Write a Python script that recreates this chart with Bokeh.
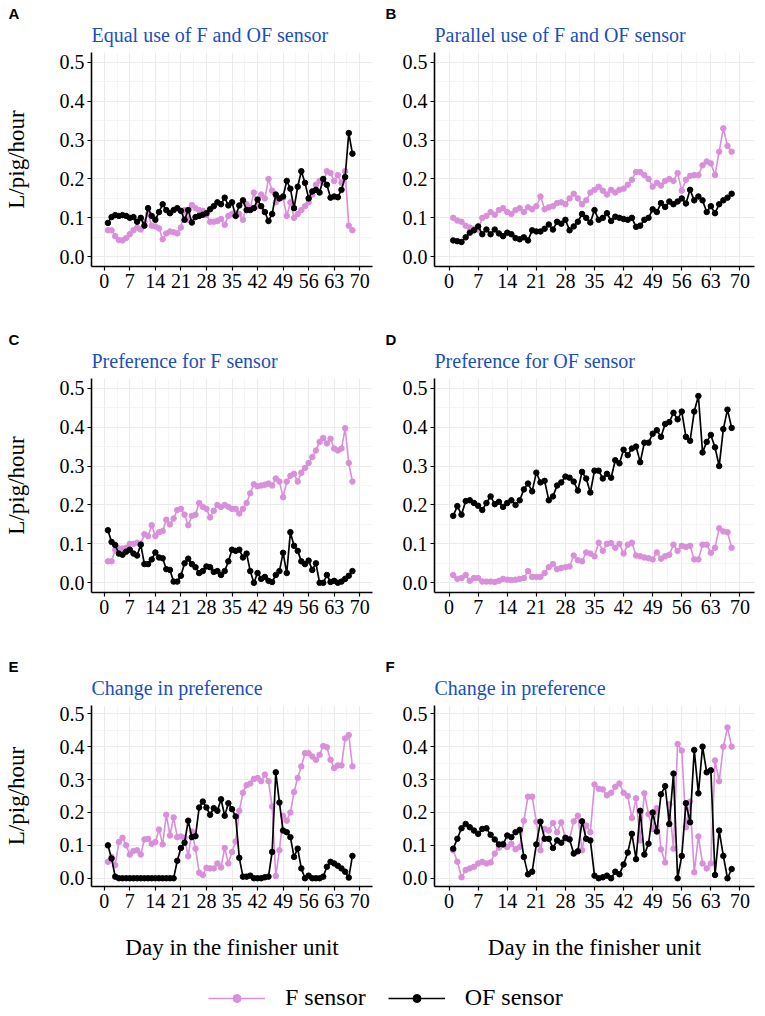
from bokeh.plotting import figure
from bokeh.layouts import column, row
from bokeh.models import (FixedTicker, Title, Legend, LegendItem, Range1d,
                          ColumnDataSource, PrintfTickFormatter)
from bokeh.embed import file_html
from bokeh.resources import INLINE

days = list(range(1, 69))
x_ticks = [0, 7, 14, 21, 28, 35, 42, 49, 56, 63, 70]
x_minor = [3.5, 10.5, 17.5, 24.5, 31.5, 38.5, 45.5, 52.5, 59.5, 66.5]
y_ticks = [0.0, 0.1, 0.2, 0.3, 0.4, 0.5]
y_minor = [0.05, 0.15, 0.25, 0.35, 0.45]

panel_letters = ["A", "B", "C", "D", "E", "F"]
panel_titles = ["Equal use of F and OF sensor", "Parallel use of F and OF sensor",
                "Preference for F sensor", "Preference for OF sensor",
                "Change in preference", "Change in preference"]
series_names = ["F sensor", "OF sensor"]
y_title = "L/pig/hour"
x_title = "Day in the finisher unit"

a_f = [0.068, 0.068, 0.053, 0.043, 0.042, 0.048, 0.058, 0.068, 0.075, 0.070,
       0.090, 0.110, 0.080, 0.078, 0.073, 0.045, 0.060, 0.065, 0.063, 0.060,
       0.075, 0.120, 0.095, 0.133, 0.125, 0.120, 0.118, 0.108, 0.090, 0.090,
       0.092, 0.097, 0.082, 0.105, 0.110, 0.112, 0.110, 0.095, 0.135, 0.125,
       0.165, 0.130, 0.160, 0.150, 0.200, 0.170, 0.140, 0.150, 0.152, 0.105,
       0.140, 0.100, 0.110, 0.120, 0.130, 0.140, 0.160, 0.185, 0.195, 0.190,
       0.220, 0.215, 0.195, 0.210, 0.190, 0.220, 0.080, 0.068]
a_of = [0.087, 0.102, 0.107, 0.105, 0.107, 0.105, 0.100, 0.102, 0.090, 0.100,
        0.080, 0.125, 0.105, 0.095, 0.115, 0.135, 0.120, 0.112, 0.120, 0.125,
        0.118, 0.095, 0.120, 0.088, 0.102, 0.105, 0.108, 0.112, 0.122, 0.130,
        0.140, 0.135, 0.152, 0.132, 0.140, 0.105, 0.132, 0.145, 0.120, 0.120,
        0.125, 0.147, 0.130, 0.115, 0.092, 0.110, 0.160, 0.150, 0.155, 0.195,
        0.175, 0.125, 0.180, 0.220, 0.190, 0.150, 0.168, 0.172, 0.165, 0.200,
        0.185, 0.152, 0.155, 0.153, 0.172, 0.205, 0.318, 0.265]
b_f = [0.100, 0.093, 0.090, 0.080, 0.075, 0.072, 0.070, 0.100, 0.105, 0.115,
       0.108, 0.120, 0.125, 0.115, 0.110, 0.120, 0.125, 0.115, 0.127, 0.122,
       0.130, 0.155, 0.122, 0.127, 0.130, 0.138, 0.140, 0.135, 0.150, 0.162,
       0.150, 0.135, 0.145, 0.165, 0.172, 0.180, 0.170, 0.160, 0.172, 0.165,
       0.172, 0.175, 0.185, 0.198, 0.218, 0.218, 0.210, 0.200, 0.180, 0.190,
       0.183, 0.195, 0.200, 0.195, 0.215, 0.170, 0.198, 0.208, 0.210, 0.210,
       0.235, 0.245, 0.240, 0.210, 0.270, 0.330, 0.285, 0.270]
b_of = [0.042, 0.040, 0.038, 0.050, 0.062, 0.068, 0.078, 0.058, 0.070, 0.058,
        0.070, 0.060, 0.053, 0.062, 0.058, 0.048, 0.045, 0.050, 0.042, 0.068,
        0.065, 0.065, 0.072, 0.083, 0.070, 0.090, 0.085, 0.095, 0.068, 0.078,
        0.090, 0.110, 0.100, 0.088, 0.120, 0.095, 0.100, 0.112, 0.092, 0.103,
        0.100, 0.097, 0.095, 0.100, 0.077, 0.080, 0.095, 0.100, 0.122, 0.115,
        0.138, 0.128, 0.142, 0.135, 0.142, 0.150, 0.137, 0.172, 0.145, 0.155,
        0.145, 0.115, 0.130, 0.112, 0.135, 0.145, 0.152, 0.162]
c_f = [0.055, 0.055, 0.085, 0.088, 0.088, 0.090, 0.100, 0.100, 0.103, 0.100,
       0.125, 0.120, 0.148, 0.120, 0.130, 0.133, 0.162, 0.150, 0.165, 0.187,
       0.190, 0.175, 0.148, 0.172, 0.175, 0.205, 0.195, 0.190, 0.168, 0.185,
       0.200, 0.195, 0.200, 0.195, 0.190, 0.190, 0.178, 0.190, 0.205, 0.230,
       0.253, 0.248, 0.250, 0.252, 0.255, 0.250, 0.268, 0.260, 0.220, 0.260,
       0.275, 0.280, 0.260, 0.283, 0.295, 0.308, 0.323, 0.340, 0.362, 0.372,
       0.358, 0.370, 0.345, 0.340, 0.345, 0.397, 0.308, 0.260]
c_of = [0.135, 0.105, 0.097, 0.075, 0.072, 0.080, 0.085, 0.075, 0.070, 0.098,
        0.048, 0.048, 0.060, 0.078, 0.065, 0.063, 0.035, 0.033, 0.003, 0.003,
        0.018, 0.050, 0.062, 0.048, 0.040, 0.025, 0.030, 0.042, 0.040, 0.028,
        0.030, 0.020, 0.030, 0.055, 0.085, 0.082, 0.085, 0.065, 0.075, 0.030,
        0.000, 0.025, 0.010, 0.015, 0.005, 0.002, 0.020, 0.030, 0.077, 0.025,
        0.130, 0.095, 0.082, 0.055, 0.048, 0.057, 0.033, 0.050, 0.000, 0.000,
        0.020, 0.002, 0.005, 0.000, 0.003, 0.010, 0.018, 0.030]
d_f = [0.020, 0.010, 0.012, 0.020, 0.005, 0.012, 0.012, 0.003, 0.003, 0.003,
       0.002, 0.005, 0.010, 0.008, 0.007, 0.008, 0.010, 0.012, 0.030, 0.015,
       0.015, 0.015, 0.025, 0.040, 0.048, 0.035, 0.038, 0.040, 0.042, 0.070,
       0.058, 0.055, 0.078, 0.075, 0.068, 0.103, 0.082, 0.100, 0.102, 0.090,
       0.100, 0.075, 0.098, 0.103, 0.070, 0.068, 0.065, 0.063, 0.060, 0.078,
       0.062, 0.068, 0.072, 0.098, 0.082, 0.095, 0.092, 0.095, 0.060, 0.060,
       0.098, 0.098, 0.077, 0.090, 0.140, 0.132, 0.130, 0.090]
d_of = [0.172, 0.197, 0.175, 0.210, 0.212, 0.205, 0.198, 0.187, 0.205, 0.222,
        0.202, 0.208, 0.195, 0.205, 0.212, 0.200, 0.212, 0.240, 0.255, 0.235,
        0.283, 0.258, 0.262, 0.212, 0.222, 0.250, 0.258, 0.273, 0.270, 0.260,
        0.237, 0.285, 0.268, 0.232, 0.288, 0.288, 0.268, 0.280, 0.270, 0.315,
        0.307, 0.342, 0.328, 0.345, 0.350, 0.310, 0.360, 0.360, 0.383, 0.392,
        0.375, 0.408, 0.413, 0.437, 0.420, 0.440, 0.375, 0.365, 0.440, 0.480,
        0.335, 0.362, 0.380, 0.348, 0.300, 0.395, 0.445, 0.398]
e_f = [0.050, 0.065, 0.040, 0.110, 0.123, 0.100, 0.072, 0.083, 0.085, 0.072,
       0.118, 0.120, 0.105, 0.110, 0.148, 0.103, 0.193, 0.130, 0.185, 0.125,
       0.127, 0.123, 0.067, 0.142, 0.090, 0.017, 0.010, 0.032, 0.030, 0.030,
       0.045, 0.033, 0.092, 0.045, 0.080, 0.112, 0.205, 0.260, 0.283, 0.288,
       0.302, 0.305, 0.295, 0.315, 0.295, 0.218, 0.007, 0.085, 0.190, 0.175,
       0.200, 0.262, 0.305, 0.340, 0.380, 0.380, 0.370, 0.360, 0.375, 0.402,
       0.398, 0.360, 0.335, 0.343, 0.343, 0.425, 0.435, 0.340]
e_of = [0.100, 0.060, 0.005, 0.000, 0.000, 0.000, 0.000, 0.000, 0.000, 0.000,
        0.000, 0.000, 0.000, 0.000, 0.000, 0.000, 0.000, 0.000, 0.000, 0.053,
        0.092, 0.108, 0.175, 0.125, 0.128, 0.215, 0.233, 0.215, 0.193, 0.213,
        0.205, 0.240, 0.190, 0.228, 0.210, 0.188, 0.062, 0.005, 0.005, 0.008,
        0.000, 0.000, 0.000, 0.003, 0.005, 0.080, 0.322, 0.230, 0.145, 0.140,
        0.125, 0.065, 0.090, 0.030, 0.000, 0.008, 0.000, 0.000, 0.000, 0.005,
        0.035, 0.050, 0.045, 0.038, 0.030, 0.020, 0.002, 0.068]
f_f = [0.085, 0.050, 0.003, 0.025, 0.030, 0.035, 0.045, 0.050, 0.045, 0.048,
       0.075, 0.093, 0.105, 0.095, 0.105, 0.088, 0.095, 0.175, 0.248, 0.248,
       0.172, 0.085, 0.150, 0.145, 0.168, 0.140, 0.170, 0.120, 0.120, 0.173,
       0.190, 0.085, 0.160, 0.140, 0.285, 0.272, 0.270, 0.252, 0.260, 0.278,
       0.288, 0.260, 0.250, 0.183, 0.243, 0.115, 0.258, 0.195, 0.150, 0.213,
       0.088, 0.048, 0.225, 0.090, 0.408, 0.388, 0.155, 0.233, 0.018, 0.127,
       0.045, 0.030, 0.045, 0.358, 0.295, 0.400, 0.458, 0.400]
f_of = [0.090, 0.120, 0.152, 0.165, 0.155, 0.145, 0.135, 0.150, 0.152, 0.132,
        0.118, 0.103, 0.103, 0.130, 0.125, 0.140, 0.147, 0.065, 0.012, 0.020,
        0.103, 0.172, 0.120, 0.120, 0.092, 0.115, 0.108, 0.123, 0.118, 0.075,
        0.082, 0.173, 0.120, 0.115, 0.008, 0.000, 0.003, 0.008, 0.000, 0.020,
        0.012, 0.042, 0.078, 0.135, 0.058, 0.205, 0.072, 0.105, 0.200, 0.142,
        0.255, 0.280, 0.165, 0.318, 0.000, 0.068, 0.228, 0.170, 0.390, 0.258,
        0.400, 0.322, 0.328, 0.010, 0.145, 0.068, 0.000, 0.028]

f_series = [a_f, b_f, c_f, d_f, e_f, f_f]
of_series = [a_of, b_of, c_of, d_of, e_of, f_of]

PINK = "#D98FD9"
BLACK = "#000000"
BLUE = "#1A4FC0"
SERIF = "Liberation Serif"
SANS = "Liberation Sans"


def make_panel(idx, width, height, b_left, b_right, b_top, b_bottom, left_col,
               bottom_row):
    src = ColumnDataSource(dict(day=days, f=f_series[idx], of=of_series[idx]))
    p = figure(width=width, height=height,
               x_range=Range1d(-3.5, 73.5), y_range=Range1d(-0.025, 0.525),
               output_backend="svg", toolbar_location=None, title=None,
               min_border_left=b_left, min_border_right=b_right,
               min_border_top=b_top, min_border_bottom=b_bottom)
    p.outline_line_color = None
    p.background_fill_color = "white"
    p.border_fill_color = "white"

    p.xaxis.ticker = FixedTicker(ticks=x_ticks, minor_ticks=x_minor)
    p.yaxis.ticker = FixedTicker(ticks=y_ticks, minor_ticks=y_minor)
    p.yaxis.formatter = PrintfTickFormatter(format="%.1f")
    for ax in (p.xaxis, p.yaxis):
        ax.axis_line_color = "black"
        ax.axis_line_width = 1.6
        ax.major_tick_line_color = "black"
        ax.major_tick_line_width = 1.2
        ax.major_tick_out = 4
        ax.major_tick_in = 0
        ax.minor_tick_out = 0
        ax.minor_tick_in = 0
        ax.major_label_text_font = SERIF
        ax.major_label_text_font_size = "20px"
        ax.major_label_text_color = "black"
        ax.major_label_standoff = 3
        ax.axis_label_text_font = SERIF
        ax.axis_label_text_font_size = "23px"
        ax.axis_label_text_font_style = "normal"
        ax.axis_label_text_color = "black"

    if left_col:
        p.yaxis.axis_label = y_title
        p.yaxis.axis_label_standoff = 28
    if bottom_row:
        p.xaxis.axis_label = x_title
        p.xaxis.axis_label_standoff = 24

    p.xgrid.grid_line_color = "#EBEBEB"
    p.ygrid.grid_line_color = "#EBEBEB"
    p.xgrid.grid_line_width = 1
    p.ygrid.grid_line_width = 1
    p.xgrid.minor_grid_line_color = "#F3F3F3"
    p.ygrid.minor_grid_line_color = "#F3F3F3"
    p.xgrid.minor_grid_line_width = 0.8
    p.ygrid.minor_grid_line_width = 0.8

    p.line("day", "f", source=src, line_color=PINK, line_width=1.6)
    p.scatter("day", "f", source=src, size=5.5, fill_color=PINK, line_color=PINK)
    p.line("day", "of", source=src, line_color=BLACK, line_width=1.7)
    p.scatter("day", "of", source=src, size=5.5, fill_color=BLACK, line_color=BLACK)

    # thin spacer, then the blue panel title, then the panel letter above it
    spacer = Title(text=" ", text_font_size="1px", standoff=4, align="left")
    p.add_layout(spacer, "above")
    t = Title(text=panel_titles[idx], align="left", text_font=SERIF,
              text_font_size="20px", text_font_style="normal",
              text_color=BLUE, standoff=0, vertical_align="bottom")
    p.add_layout(t, "above")
    lt = Title(text=panel_letters[idx], align="left", offset=-(b_left - 1),
               text_font=SANS, text_font_style="bold", text_font_size="15px",
               text_color="black", standoff=0, vertical_align="bottom")
    p.add_layout(lt, "above")
    return p


pA = make_panel(0, 384, 327, 84, 12, 52, 61, True, False)
pB = make_panel(1, 371, 327, 50, 1, 52, 61, False, False)
pC = make_panel(2, 384, 327, 84, 12, 51, 62, True, False)
pD = make_panel(3, 371, 327, 50, 1, 51, 62, False, False)
pE = make_panel(4, 384, 308, 84, 12, 51, 69, True, True)
pF = make_panel(5, 371, 308, 50, 1, 51, 69, False, True)

# legend figure: renderers hold the first panel's data, kept outside the visible range
lsrc = ColumnDataSource(dict(day=days, f=a_f, of=a_of))
lp = figure(width=755, height=50, output_backend="svg", toolbar_location=None,
            x_range=Range1d(-200, -100), y_range=Range1d(0, 1),
            min_border_left=0, min_border_right=0, min_border_top=0, min_border_bottom=0)
lp.axis.visible = False
lp.grid.visible = False
lp.outline_line_color = None
rf_l = lp.line("day", "f", source=lsrc, line_color=PINK, line_width=1.6)
rf_s = lp.scatter("day", "f", source=lsrc, size=4.5, fill_color=PINK, line_color=PINK)
ro_l = lp.line("day", "of", source=lsrc, line_color=BLACK, line_width=1.7)
ro_s = lp.scatter("day", "of", source=lsrc, size=4.5, fill_color=BLACK, line_color=BLACK)
legend = Legend(items=[LegendItem(label=series_names[0], renderers=[rf_l, rf_s]),
                       LegendItem(label=series_names[1], renderers=[ro_l, ro_s])],
                orientation="horizontal", location=(208, 1),
                label_text_font=SERIF, label_text_font_size="24px",
                label_text_color="black", label_text_line_height=0.8,
                glyph_width=57, glyph_height=20, label_height=20,
                label_standoff=20, spacing=22,
                padding=0, margin=0, border_line_color=None,
                background_fill_alpha=0)
lp.add_layout(legend)

layout = column(row(pA, pB), row(pC, pD), row(pE, pF), lp)
open("out.html", "w").write(file_html(layout, INLINE))
